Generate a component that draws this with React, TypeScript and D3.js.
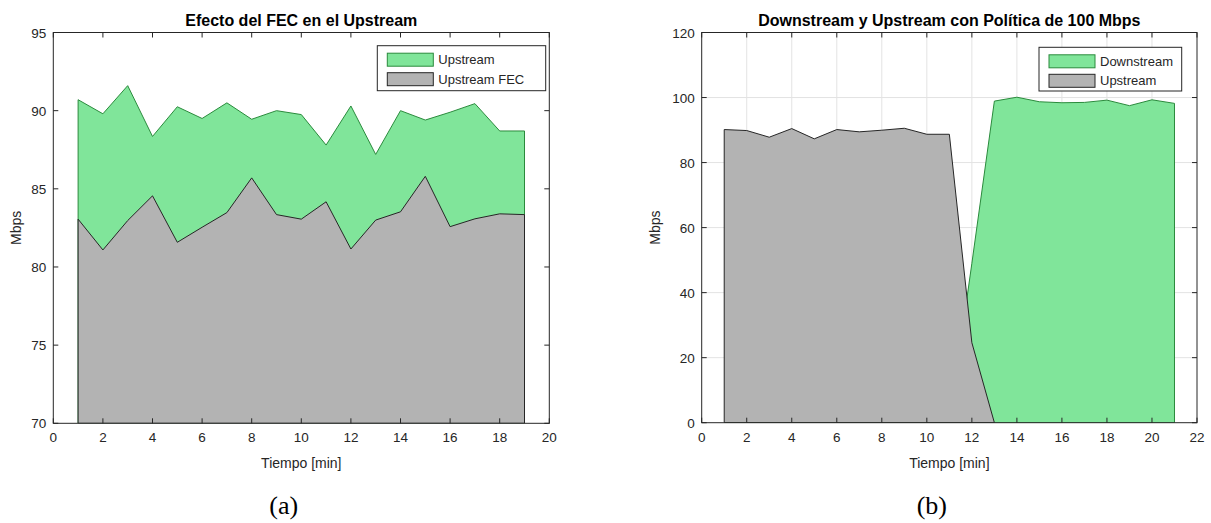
import React from "react";
import * as d3 from "d3";

// ---- Data (a) ----
const timeA = [1, 2, 3, 4, 5, 6, 7, 8, 9, 10, 11, 12, 13, 14, 15, 16, 17, 18, 19];
const upstreamA = [90.7, 89.8, 91.6, 88.35, 90.25, 89.5, 90.5, 89.45, 90.0, 89.75, 87.8, 90.3, 87.2, 90.0, 89.4, 89.9, 90.45, 88.7, 88.7];
const upstreamFecA = [83.06, 81.09, 82.97, 84.55, 81.58, 82.54, 83.48, 85.7, 83.35, 83.06, 84.17, 81.15, 83.0, 83.53, 85.8, 82.58, 83.08, 83.4, 83.35];
const xTicksA = [0, 2, 4, 6, 8, 10, 12, 14, 16, 18, 20];
const yTicksA = [70, 75, 80, 85, 90, 95];

// ---- Data (b) ----
const timeDown = [1, 2, 3, 4, 5, 6, 7, 8, 9, 10, 11, 12, 13, 14, 15, 16, 17, 18, 19, 20, 21];
const downstreamB = [0, 0, 0, 0, 0, 0, 0, 0, 0, 0, 0, 49, 98.9, 100.1, 98.7, 98.4, 98.5, 99.2, 97.5, 99.3, 98.2];
const timeUp = [1, 2, 3, 4, 5, 6, 7, 8, 9, 10, 11, 12, 13];
const upstreamB = [90.15, 89.85, 87.8, 90.45, 87.3, 90.15, 89.45, 89.95, 90.55, 88.7, 88.7, 24.6, 0];
const xTicksB = [0, 2, 4, 6, 8, 10, 12, 14, 16, 18, 20, 22];
const yTicksB = [0, 20, 40, 60, 80, 100, 120];

const GREEN_FILL = "#80e59a";
const GREEN_EDGE = "#2a8a3c";
const GREY_FILL = "#b3b3b3";
const GREY_EDGE = "#262626";
const TXT = "#262626";
const FONT = "'Liberation Sans', Arial, Helvetica, sans-serif";

type Series = { x: number[]; y: number[]; fill: string; stroke: string; label: string };

function Panel(props: {
  id: string;
  left: number; right: number; top: number; bottom: number;
  xDomain: [number, number]; yDomain: [number, number];
  xTicks: number[]; yTicks: number[];
  grid: boolean; title: string;
  series: Series[];
  legend: { x0: number; y0: number; w: number; h: number };
  caption: string;
  ylabelX: number;
}) {
  const { left, right, top, bottom } = props;
  const xs = d3.scaleLinear().domain(props.xDomain).range([left, right]);
  const ys = d3.scaleLinear().domain(props.yDomain).range([bottom, top]);
  const base = props.yDomain[0];
  const tick = 5;
  const cx = (left + right) / 2;
  const cy = (top + bottom) / 2;
  return (
    <g>
      <defs>
        <clipPath id={props.id}>
          <rect x={left} y={top} width={right - left} height={bottom - top} />
        </clipPath>
      </defs>
      <rect x={left} y={top} width={right - left} height={bottom - top} fill="#fff" />
      {props.grid && (
        <g stroke="#e3e3e3" strokeWidth={1}>
          {props.xTicks.filter((t) => t > props.xDomain[0] && t < props.xDomain[1]).map((t) => (
            <line key={"gx" + t} x1={xs(t)} x2={xs(t)} y1={top} y2={bottom} />
          ))}
          {props.yTicks.filter((t) => t > props.yDomain[0] && t < props.yDomain[1]).map((t) => (
            <line key={"gy" + t} x1={left} x2={right} y1={ys(t)} y2={ys(t)} />
          ))}
        </g>
      )}
      <g clipPath={`url(#${props.id})`}>
        {props.series.map((s, i) => {
          const pts: [number, number][] = s.x.map((xv, k) => [xv, s.y[k]]);
          const area = d3
            .area<[number, number]>()
            .x((d) => xs(d[0]))
            .y0(ys(base))
            .y1((d) => ys(d[1]))(pts);
          const outline =
            "M" + xs(s.x[0]) + "," + ys(base) + " " +
            pts.map((d) => "L" + xs(d[0]) + "," + ys(d[1])).join(" ") +
            " L" + xs(s.x[s.x.length - 1]) + "," + ys(base) + " Z";
          return (
            <g key={i}>
              <path d={area || ""} fill={s.fill} stroke="none" />
              <path d={outline} fill="none" stroke={s.stroke} strokeWidth={1} strokeLinejoin="round" />
            </g>
          );
        })}
      </g>
      {/* box */}
      <rect x={left} y={top} width={right - left} height={bottom - top} fill="none" stroke={TXT} strokeWidth={1} />
      {/* ticks */}
      <g stroke={TXT} strokeWidth={1}>
        {props.xTicks.map((t) => (
          <g key={"tx" + t}>
            <line x1={xs(t)} x2={xs(t)} y1={bottom} y2={bottom - tick} />
            <line x1={xs(t)} x2={xs(t)} y1={top} y2={top + tick} />
          </g>
        ))}
        {props.yTicks.map((t) => (
          <g key={"ty" + t}>
            <line x1={left} x2={left + tick} y1={ys(t)} y2={ys(t)} />
            <line x1={right} x2={right - tick} y1={ys(t)} y2={ys(t)} />
          </g>
        ))}
      </g>
      <g fontFamily={FONT} fontSize={13.5} fill={TXT}>
        {props.xTicks.map((t) => (
          <text key={"lx" + t} x={xs(t)} y={bottom + 19} textAnchor="middle">{t}</text>
        ))}
        {props.yTicks.map((t) => (
          <text key={"ly" + t} x={left - 7} y={ys(t) + 5} textAnchor="end">{t}</text>
        ))}
        <text x={cx} y={bottom + 45} textAnchor="middle" fontSize={14}>Tiempo [min]</text>
        <text transform={`translate(${props.ylabelX},${cy}) rotate(-90)`} textAnchor="middle" fontSize={14}>Mbps</text>
        <text x={cx} y={top - 7} textAnchor="middle" fontWeight="bold" fontSize={16} fill="#000">{props.title}</text>
      </g>
      {/* legend */}
      <g fontFamily={FONT} fontSize={13} fill={TXT}>
        <rect x={props.legend.x0} y={props.legend.y0} width={props.legend.w} height={props.legend.h} fill="#fff" stroke={TXT} strokeWidth={1} />
        {props.series.map((s, i) => {
          const sy = props.legend.y0 + 7.5 + i * 19.5;
          return (
            <g key={"lg" + i}>
              <rect x={props.legend.x0 + 10} y={sy} width={46} height={13} fill={s.fill} stroke={s.stroke} strokeWidth={1} />
              <text x={props.legend.x0 + 61} y={sy + 11}>{s.label}</text>
            </g>
          );
        })}
      </g>
      <text x={cx - 17.5} y={514} textAnchor="middle" fontFamily="'Liberation Serif', 'DejaVu Serif', serif" fontSize={26} fill="#000">{props.caption}</text>
    </g>
  );
}

export default function App() {
  return (
    <svg width={1211} height={523} style={{ position: "absolute", left: 0, top: 0, background: "#fff" }}>
      <Panel
        id="clipA"
        left={53.3} right={549.3} top={32.5} bottom={423.3}
        xDomain={[0, 20]} yDomain={[70, 95]}
        xTicks={xTicksA} yTicks={yTicksA}
        grid={false}
        title="Efecto del FEC en el Upstream"
        series={[
          { x: timeA, y: upstreamA, fill: GREEN_FILL, stroke: GREEN_EDGE, label: "Upstream" },
          { x: timeA, y: upstreamFecA, fill: GREY_FILL, stroke: GREY_EDGE, label: "Upstream FEC" },
        ]}
        legend={{ x0: 377.3, y0: 45.7, w: 168.4, h: 45 }}
        caption="(a)"
        ylabelX={21}
      />
      <Panel
        id="clipB"
        left={701.7} right={1197} top={32.5} bottom={422.7}
        xDomain={[0, 22]} yDomain={[0, 120]}
        xTicks={xTicksB} yTicks={yTicksB}
        grid={true}
        title="Downstream y Upstream con Política de 100 Mbps"
        series={[
          { x: timeDown, y: downstreamB, fill: GREEN_FILL, stroke: GREEN_EDGE, label: "Downstream" },
          { x: timeUp, y: upstreamB, fill: GREY_FILL, stroke: GREY_EDGE, label: "Upstream" },
        ]}
        legend={{ x0: 1039, y0: 47.3, w: 142.7, h: 43.7 }}
        caption="(b)"
        ylabelX={660}
      />
    </svg>
  );
}
